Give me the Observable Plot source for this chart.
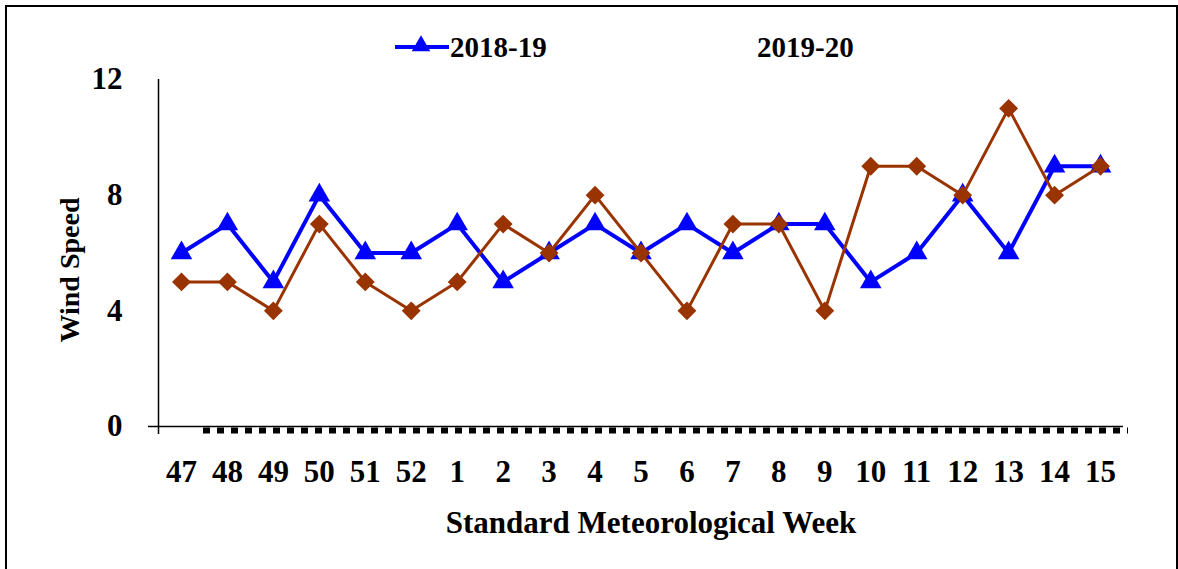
<!DOCTYPE html>
<html><head><meta charset="utf-8">
<script src="https://cdn.jsdelivr.net/npm/d3@7"></script>
<script src="https://cdn.jsdelivr.net/npm/@observablehq/plot@0.6"></script>
<style>
html,body{margin:0;padding:0;background:#fff;overflow:hidden;}
#wrap{position:relative;width:1178px;height:569px;font-family:"Liberation Serif","Times New Roman",serif;}
#frame{position:absolute;left:5px;top:5px;width:1169px;height:600px;border:2px solid #000;box-sizing:content-box;}
#chart{position:absolute;left:0;top:0;}
.item{position:absolute;top:31px;display:flex;align-items:center;font-weight:bold;font-size:29px;line-height:32px;color:#000;}
.item svg{display:block;}
</style></head><body>
<div id="wrap"><div id="frame"></div><div id="chart"></div><div id="legend"></div></div>
<script>
const weeks = ["47","48","49","50","51","52","1","2","3","4","5","6","7","8","9","10","11","12","13","14","15"];
const wind2018 = [6,7,5,8,6,6,7,5,6,7,6,7,6,7,7,5,6,8,6,9,9];
const wind2019 = [5,5,4,7,5,4,5,7,6,8,6,4,7,7,4,9,9,8,11,8,9];
const seriesNames = ["2018-19","2019-20"];
const seriesColors = ["#0000ff","#993300"];
const yTicks = [0,4,8,12];
const yLabel = "Wind Speed";
const xLabel = "Standard Meteorological Week";

const d18 = weeks.map((w,i)=>({i, week:w, value:wind2018[i]}));
const d19 = weeks.map((w,i)=>({i, week:w, value:wind2019[i]}));

const font = "'Liberation Serif','Times New Roman',serif";
const plot = Plot.plot({
  width:1178, height:569,
  marginTop:79, marginBottom:143, marginLeft:158, marginRight:55,
  style:{background:"transparent", fontFamily:font, fontSize:"31px", fontWeight:"bold", color:"#000", overflow:"visible"},
  x:{domain:[-0.5, weeks.length-0.5], axis:null},
  y:{domain:[0,12], axis:null},
  marks:[
    Plot.axisY({ticks:yTicks, tickSize:0, tickPadding:36, label:null, fontSize:31, fontWeight:"bold", fontFamily:font}),
    Plot.axisY({ticks:[0], tickSize:10, tickFormat:()=>"", label:null, strokeWidth:1.5}),
    Plot.axisX({ticks:d3.range(weeks.length), tickFormat:i=>weeks[i], tickSize:0, tickPadding:33, label:null, fontSize:31, fontWeight:"bold", fontFamily:font, style:"letter-spacing:1.5px"}),
    Plot.ruleX([-0.5], {insetBottom:-8, strokeWidth:1.5, stroke:"#000"}),
    Plot.ruleY([0], {strokeWidth:1.5, stroke:"#000"}),
    Plot.ruleY([0], {dy:4, strokeWidth:6, strokeDasharray:"7,7", insetLeft:45, insetRight:-5, stroke:"#000"}),
    Plot.line(d18, {x:"i", y:"value", stroke:seriesColors[0], strokeWidth:4}),
    Plot.dot(d18, {x:"i", y:"value", symbol:"triangle", r:8, fill:seriesColors[0], stroke:null}),
    Plot.line(d19, {x:"i", y:"value", stroke:seriesColors[1], strokeWidth:3}),
    Plot.dot(d19, {x:"i", y:"value", symbol:"diamond2", r:8.5, fill:seriesColors[1], stroke:null}),
    Plot.text([yLabel], {text:d=>d, frameAnchor:"left", textAnchor:"middle", rotate:-90, dx:-88, dy:17, fontSize:28, fontWeight:"bold", fontFamily:font, fill:"#000", style:"letter-spacing:-1.6px;word-spacing:-8px"}),
    Plot.text([xLabel], {text:d=>d, frameAnchor:"bottom", lineAnchor:"middle", dx:10, dy:97, fontSize:31, fontWeight:"bold", fontFamily:font, fill:"#000"})
  ]
});
document.getElementById("chart").appendChild(plot);

// legend
const legend = document.getElementById("legend");
const lefts = [395, 757];
seriesNames.forEach((name, k) => {
  const item = document.createElement("div");
  item.className = "item";
  item.style.left = lefts[k] + "px";
  if (k === 0) {
    const ns = "http://www.w3.org/2000/svg";
    const svg = document.createElementNS(ns, "svg");
    svg.setAttribute("width", 55); svg.setAttribute("height", 24);
    const ln = document.createElementNS(ns, "line");
    ln.setAttribute("x1", 0); ln.setAttribute("x2", 54); ln.setAttribute("y1", 12); ln.setAttribute("y2", 12);
    ln.setAttribute("stroke", seriesColors[k]); ln.setAttribute("stroke-width", 4);
    const tri = document.createElementNS(ns, "path");
    tri.setAttribute("d", d3.symbol(d3.symbolTriangle, 150)());
    tri.setAttribute("transform", "translate(26,11)");
    tri.setAttribute("fill", seriesColors[k]);
    svg.appendChild(ln); svg.appendChild(tri);
    item.appendChild(svg);
  }
  const t = document.createElement("span");
  t.textContent = name;
  item.appendChild(t);
  legend.appendChild(item);
});
</script>
</body></html>
